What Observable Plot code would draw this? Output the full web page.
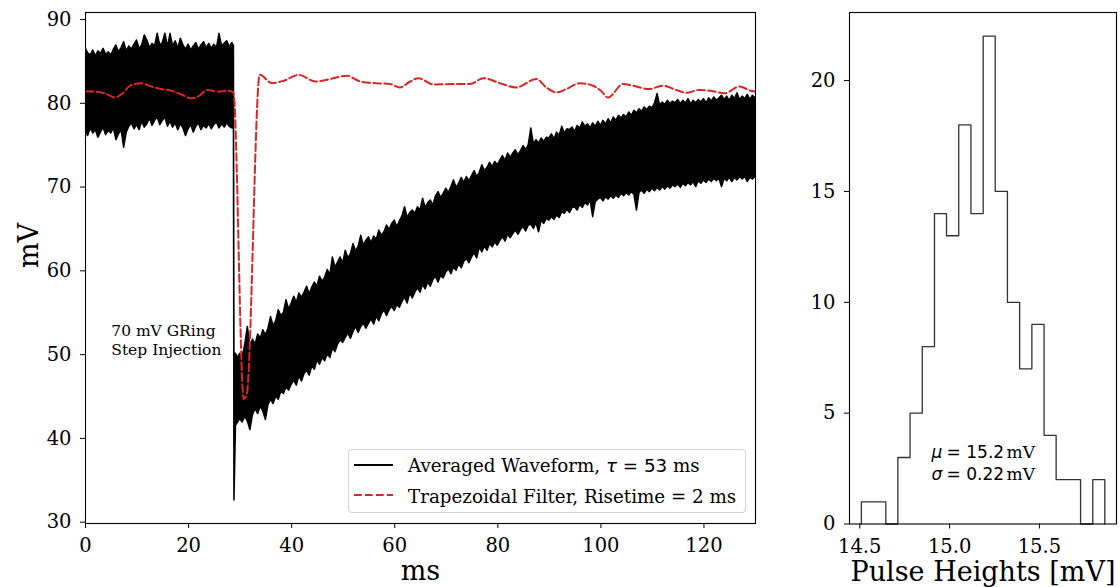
<!DOCTYPE html>
<html><head><meta charset="utf-8">
<script src="https://cdn.jsdelivr.net/npm/d3@7"></script>
<script src="https://cdn.jsdelivr.net/npm/@observablehq/plot@0.6"></script>
<style>
body{margin:0;background:#fff;}
#wrap{position:relative;width:1120px;height:587px;overflow:hidden;background:#fff;font-family:"DejaVu Serif",serif;color:#000;}
#left,#right{position:absolute;top:0;}
#left{left:0}
#right{left:770px}
#legend{position:absolute;left:348px;top:449px;width:396px;height:62px;border:1px solid rgba(204,204,204,0.8);border-radius:4px;background:rgba(255,255,255,0.8);font-size:18.3px;}
.lt{position:absolute;left:59px;line-height:1;white-space:nowrap;}
.mt{font-family:"DejaVu Sans",sans-serif;}
</style></head>
<body>
<div id="wrap">
  <div id="left"></div>
  <div id="right"></div>
  <div id="legend">
    <svg width="50" height="62" style="position:absolute;left:0;top:0">
      <line x1="5" x2="44" y1="15" y2="15" stroke="#000" stroke-width="2"/>
      <line x1="5" x2="44" y1="45" y2="45" stroke="#d62728" stroke-width="2" stroke-dasharray="7.7,3.3"/>
    </svg>
    <div class="lt" style="top:7.2px">Averaged Waveform, <span class="mt"><i>τ</i> = 53</span> ms</div>
    <div class="lt" style="top:37.8px">Trapezoidal Filter, Risetime = 2 ms</div>
  </div>
</div>
<script>
// ---- Averaged waveform: upper / lower envelope of the noisy trace (mV) vs time (ms)
const waveTime = [
  0,0.5,1,1.5,2,2.5,3,3.5,4,4.5, 5,5.5,6,6.5,7,7.5,8,8.5,9,9.5,
  10,10.5,11,11.5,12,12.5,13,13.5,14,14.5, 15,15.5,16,16.5,17,17.5,18,18.5,19,19.5,
  20,20.5,21,21.5,22,22.5,23,23.5,24,24.5, 25,25.5,26,26.5,27,27.5,28,28.5,
  28.8,28.9,29.2,
  29.5,30,30.5,31,31.5,32,32.5,33,33.5,34, 34.5,35,35.5,36,36.5,37,37.5,38,38.5,39,
  39.5,40,40.5,41,41.5,42,42.5,43,43.5,44, 44.5,45,45.5,46,46.5,47,47.5,48,48.5,49,
  49.5,50,50.5,51,51.5,52,52.5,53,53.5,54, 54.5,55,55.5,56,56.5,57,57.5,58,58.5,59,
  59.5,60,60.5,61,61.5,62,62.5,63,63.5,64, 64.5,65,65.5,66,66.5,67,67.5,68,68.5,69,
  69.5,70,70.5,71,71.5,72,72.5,73,73.5,74, 74.5,75,75.5,76,76.5,77,77.5,78,78.5,79,
  79.5,80,80.5,81,81.5,82,82.5,83,83.5,84, 84.5,85,85.5,86,86.5,87,87.5,88,88.5,89,
  89.5,90,90.5,91,91.5,92,92.5,93,93.5,94, 94.5,95,95.5,96,96.5,97,97.5,98,98.5,99,
  99.5,100,100.5,101,101.5,102,102.5,103,103.5,104, 104.5,105,105.5,106,106.5,107,107.5,108,108.5,109,
  109.5,110,110.5,111,111.5,112,112.5,113,113.5,114, 114.5,115,115.5,116,116.5,117,117.5,118,118.5,119,
  119.5,120,120.5,121,121.5,122,122.5,123,123.5,124, 124.5,125,125.5,126,126.5,127,127.5,128,128.5,129,
  129.5,130];
const waveHigh = [
  86.6,86.0,85.7,86.3,85.6,86.2,85.9,86.5,85.8,86.1, 85.7,86.4,86.9,86.1,86.6,87.3,86.2,86.8,86.4,87.0,
  87.5,86.5,86.9,88.1,87.5,86.6,87.1,86.8,88.3,86.9, 87.2,88.3,86.7,88.3,86.8,87.4,86.5,87.7,86.9,86.4,
  87.0,86.3,86.8,87.2,86.4,86.9,87.3,86.6,87.1,86.5, 87.0,86.6,88.3,86.8,87.1,87.4,86.7,87.2,
  86.8,50.0,50.1,
  49.6,50.1,49.7,51.2,53.3,51.0,51.8,51.2,52.4,51.9, 52.9,52.3,53.1,54.5,53.4,54.0,55.3,54.6,55.0,56.5,
  55.4,56.1,56.9,56.2,57.3,56.8,57.4,58.1,57.2,58.0, 58.6,58.1,59.3,58.7,59.2,60.1,59.5,61.6,60.4,61.0,
  61.6,60.9,62.4,61.5,62.0,63.2,62.3,62.9,64.2,63.0, 63.6,64.0,63.3,64.1,63.7,64.8,64.2,64.6,65.4,64.9,
  65.6,66.0,65.2,65.9,66.5,67.6,66.3,66.9,67.2,66.8, 67.6,67.2,68.6,67.5,68.1,68.4,67.8,68.9,69.4,68.7,
  69.2,69.8,69.3,70.0,70.8,69.9,70.4,71.1,70.5,71.2, 70.7,71.3,71.9,71.2,71.7,72.6,71.9,72.3,72.9,72.4,
  73.0,72.6,73.2,73.7,73.1,74.0,73.5,74.0,74.4,73.8, 74.3,74.9,74.4,75.0,77.0,75.1,75.6,75.2,75.8,75.4,
  75.9,75.8,76.3,75.7,76.5,76.1,77.2,76.4,76.9,76.8, 77.1,76.6,77.3,77.0,77.7,77.2,77.5,77.0,77.6,77.2,
  77.8,77.3,77.9,77.5,78.1,77.6,78.3,77.9,78.5,78.2, 78.6,78.3,78.9,78.5,79.1,78.8,79.3,79.0,79.5,79.2,
  79.6,79.4,80.0,81.1,79.7,80.1,79.8,80.3,79.9,80.2, 80.0,80.4,79.9,80.3,80.0,80.5,79.9,80.3,80.0,80.4,
  80.1,80.5,80.0,80.6,80.2,80.7,80.3,80.6,80.9,80.4, 80.8,80.3,80.9,80.5,81.2,80.4,80.8,80.5,81.0,80.4,
  80.9,80.6];
const waveLow = [
  76.6,76.1,77.0,76.4,76.8,75.9,76.5,77.1,76.2,76.7, 76.4,77.0,75.6,76.3,76.8,74.7,76.5,77.2,77.6,76.9,
  77.4,76.8,77.8,77.1,77.5,78.2,77.3,77.9,78.3,77.4, 77.9,78.3,77.2,77.8,77.1,77.6,76.8,77.5,77.0,76.1,
  76.9,77.4,76.5,77.2,77.6,76.8,77.3,77.0,77.5,76.9, 77.4,77.7,77.0,77.5,77.1,77.6,77.2,77.0,
  77.0,32.6,41.5,
  41.8,42.3,41.9,42.6,42.0,41.0,42.8,43.5,42.9,43.8, 43.2,42.2,44.0,44.6,44.1,45.0,44.6,45.6,45.3,46.1,
  45.7,46.4,46.9,46.3,47.4,46.8,47.7,48.1,47.5,48.6, 48.2,49.3,48.8,49.6,49.2,50.1,49.6,50.7,50.3,51.2,
  51.7,51.4,52.0,52.5,51.9,52.7,53.3,52.6,53.3,53.7, 53.1,53.7,54.2,53.6,54.5,54.0,54.8,55.3,54.6,55.3,
  55.7,55.2,55.9,55.6,56.3,56.8,56.1,57.3,56.7,57.4, 57.9,57.4,58.3,57.8,58.6,58.1,58.9,59.3,58.6,59.4,
  59.1,59.8,60.2,59.6,60.4,60.0,60.8,60.3,61.1,61.4, 60.9,61.6,62.1,61.5,62.8,62.2,62.9,62.4,63.2,62.8,
  63.4,63.0,63.6,64.0,63.5,64.3,63.9,64.4,64.8,64.3, 64.9,65.2,64.7,65.4,65.5,65.0,65.7,64.6,66.0,65.6,
  66.2,66.0,66.4,66.1,66.6,66.3,67.0,66.8,67.3,66.9, 67.5,67.6,67.2,67.9,67.5,68.1,67.8,68.4,66.4,68.2,
  68.5,68.7,68.3,68.8,68.5,68.9,68.6,69.0,68.7,69.2, 68.9,69.3,69.0,69.4,69.1,67.2,69.3,69.6,69.2,69.7,
  69.4,69.8,69.5,69.9,69.6,70.0,69.7,70.1,69.8,70.2, 70.0,70.3,69.9,70.4,70.1,70.5,70.2,70.6,70.0,70.7,
  70.4,70.8,70.5,70.9,70.6,71.0,70.7,71.0,70.0,71.0, 70.7,71.1,70.6,71.1,70.8,71.2,70.9,71.2,70.6,71.1,
  70.9,71.2];

// ---- Trapezoidal filter output (mV) vs time (ms)
const trapTime = [0,1.8,3.7,5.7,7.0,8.9,10.8,12.8,14.7,16.7,18.6,20.5,21.8,23.7,25.7,27.6,28.7,30.7,31.3,33.8,36.2,38.5,41.4,44.6,47.5,50.7,53.3,56.5,59.1,61.0,63.0,64.6,67.5,71.4,74.6,77.2,80.4,83.6,87.5,89.4,91.4,93.3,95.9,98.5,100.0,101.4,104.3,106.2,109.4,112.0,114.6,116.6,119.1,121.7,124.0,126.9,129.1,130];
const trapValue = [81.4,81.4,81.2,80.7,81.1,82.2,82.4,82.0,81.7,81.5,81.05,80.6,80.8,81.6,81.4,81.5,81.3,44.7,45.3,83.4,82.4,82.7,83.4,82.6,82.9,83.3,82.6,82.4,82.3,81.9,82.6,83.0,82.25,82.3,82.3,83.0,82.4,81.9,82.9,81.9,81.3,81.7,82.4,82.1,81.5,80.7,82.3,82.1,81.7,82.1,81.6,81.25,81.6,81.45,81.2,82.0,81.5,81.4];

// ---- Pulse-height histogram (20 bins)
const binEdges = [14.509,14.577,14.645,14.712,14.780,14.848,14.916,14.983,15.051,15.119,15.187,15.254,15.322,15.390,15.458,15.526,15.593,15.661,15.729,15.797,15.864];
const binCounts = [1,1,0,3,5,8,14,13,18,14,22,15,10,7,9,4,2,2,0,2];

// ---- ticks and texts
const xTicksLeft = [0,20,40,60,80,100,120];
const yTicksLeft = [30,40,50,60,70,80,90];
const xTicksRight = [14.5,15.0,15.5];
const yTicksRight = [0,5,10,15,20];
const annotationLines = ["70 mV GRing","Step Injection"];
const annotationAt = {x: 5, y: 50};
const statSymbols = ["μ","σ"];
const statValues = ["15.2","0.22"];
const statUnit = "mV";
const statAt = {x: 14.9, y: 2};

// ---- tables built from the arrays
const wave = waveTime.map((t,i)=>({t, hi: waveHigh[i], lo: waveLow[i]}));
const trap = trapTime.map((t,i)=>({t, v: trapValue[i]}));
const hist = [{x: binEdges[0], y: 0}]
  .concat(binCounts.map((c,i)=>({x: binEdges[i], y: c})))
  .concat([{x: binEdges[binEdges.length-1], y: 0}]);

const serif = "'DejaVu Serif', serif";
const baseStyle = {fontFamily: serif, fontSize: "19.5px", color: "#000", background: "transparent", overflow: "visible"};

const leftPlot = Plot.plot({
  width: 770, height: 587,
  marginLeft: 85, marginRight: 15, marginTop: 12, marginBottom: 64,
  style: baseStyle,
  x: {domain: [0,130]},
  y: {domain: [29.84, 90.84]},
  marks: [
    Plot.areaY(wave, {x: "t", y1: "lo", y2: "hi", fill: "#000", stroke: "#000", strokeWidth: 1.5, strokeLinejoin: "round", curve: "linear", clip: true}),
    Plot.line(trap, {x: "t", y: "v", stroke: "#d62728", strokeWidth: 2, strokeDasharray: "7.7,3.3", curve: "monotone-x", clip: true}),
    Plot.text([annotationAt], {x: "x", y: "y", text: () => annotationLines.join("\n"), textAnchor: "start", lineAnchor: "bottom", lineHeight: 1.2, fontSize: 15.5}),
    Plot.axisX({ticks: xTicksLeft, tickSize: 5, tickPadding: 10, label: null, tickFormat: d => String(d)}),
    Plot.axisY({ticks: yTicksLeft, tickSize: 5, tickPadding: 9, label: null, tickFormat: d => String(d)}),
    Plot.frame({stroke: "#000", strokeWidth: 1.1}),
    Plot.text(["ms"], {text: d => d, frameAnchor: "bottom", dy: 37.5, lineAnchor: "top", fontSize: 27}),
    Plot.text(["mV"], {text: d => d, frameAnchor: "left", dx: -67, rotate: -90, lineAnchor: "top", fontSize: 27})
  ]
});
document.getElementById("left").appendChild(leftPlot);

const rightPlot = Plot.plot({
  width: 350, height: 587,
  marginLeft: 79, marginRight: 4, marginTop: 12, marginBottom: 63.5,
  style: baseStyle,
  x: {domain: [14.443, 15.929]},
  y: {domain: [0, 23.07]},
  marks: [
    Plot.line(hist, {x: "x", y: "y", curve: "step-after", stroke: "#333", strokeWidth: 1.3}),
    Plot.text([statAt], {x: "x", y: "y", text: () => statSymbols.join("\n"), textAnchor: "start", lineAnchor: "bottom", lineHeight: 1.27, fontSize: 17, fontFamily: "'DejaVu Sans', sans-serif", fontStyle: "italic"}),
    Plot.text([statAt], {x: "x", y: "y", text: () => statValues.map(v => "= " + v).join("\n"), textAnchor: "start", lineAnchor: "bottom", lineHeight: 1.27, fontSize: 17, fontFamily: "'DejaVu Sans', sans-serif", dx: 15}),
    Plot.text([statAt], {x: "x", y: "y", text: () => statValues.map(() => statUnit).join("\n"), textAnchor: "start", lineAnchor: "bottom", lineHeight: 1.27, fontSize: 17, dx: 75}),
    Plot.axisX({ticks: xTicksRight, tickSize: 5, tickPadding: 10, label: null, tickFormat: d3.format(".1f")}),
    Plot.axisY({ticks: yTicksRight, tickSize: 5, tickPadding: 9, label: null, tickFormat: d => String(d)}),
    Plot.frame({stroke: "#000", strokeWidth: 1.1}),
    Plot.text(["Pulse Heights [mV]"], {text: d => d, frameAnchor: "bottom", dy: 37.5, lineAnchor: "top", fontSize: 27})
  ]
});
document.getElementById("right").appendChild(rightPlot);
</script>
</body></html>
